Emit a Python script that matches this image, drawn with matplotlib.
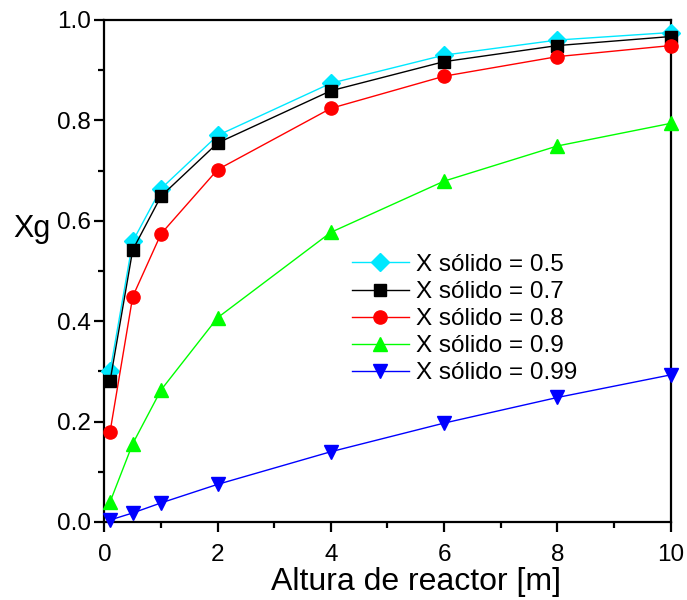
import matplotlib
matplotlib.use("Agg")
import matplotlib.pyplot as plt
from matplotlib.ticker import MultipleLocator, FormatStrFormatter

plt.rcParams["font.family"] = ["Liberation Sans", "DejaVu Sans"]

altura = [0.1, 0.5, 1, 2, 4, 6, 8, 10]

xg_05 = [0.300, 0.559, 0.664, 0.770, 0.874, 0.930, 0.960, 0.975]
xg_07 = [0.281, 0.542, 0.649, 0.755, 0.859, 0.917, 0.949, 0.967]
xg_08 = [0.180, 0.449, 0.574, 0.702, 0.824, 0.888, 0.927, 0.949]
xg_09 = [0.040, 0.156, 0.263, 0.407, 0.577, 0.679, 0.749, 0.794]
xg_099 = [0.004, 0.018, 0.038, 0.075, 0.140, 0.197, 0.248, 0.293]

labels = ["X sólido = 0.5", "X sólido = 0.7", "X sólido = 0.8",
          "X sólido = 0.9", "X sólido = 0.99"]

series = [
    (xg_05, "#00E8FF", "D", 9),
    (xg_07, "#000000", "s", 9),
    (xg_08, "#FF0000", "o", 9.5),
    (xg_09, "#00FF00", "^", 10.5),
    (xg_099, "#0000FF", "v", 10.5),
]

fig = plt.figure(figsize=(6.87, 6.0), dpi=100)
ax = fig.add_axes([0.152, 0.13, 0.824, 0.8367])

for (vals, color, marker, ms), label in zip(series, labels):
    ax.plot(altura, vals, color=color, lw=1.0, marker=marker, ms=ms,
            mec=color, mfc=color, label=label, clip_on=False, zorder=3)

ax.set_xlim(0, 10)
ax.set_ylim(0, 1.0)
ax.xaxis.set_major_locator(MultipleLocator(2))
ax.xaxis.set_minor_locator(MultipleLocator(1))
ax.yaxis.set_major_locator(MultipleLocator(0.2))
ax.yaxis.set_minor_locator(MultipleLocator(0.1))
ax.yaxis.set_major_formatter(FormatStrFormatter("%.1f"))

for s in ax.spines.values():
    s.set_linewidth(1.6)
ax.tick_params(which="both", direction="out", width=1.6, labelsize=17.5,
               top=False, right=False)
ax.tick_params(which="major", length=7.5)
ax.tick_params(which="minor", length=4.5)
ax.tick_params(axis="x", pad=8)
ax.tick_params(axis="y", pad=2.5)

ax.set_xlabel("Altura de reactor [m]", fontsize=23, labelpad=0)
ax.xaxis.set_label_coords(0.55, -0.09)
ax.set_ylabel("Xg", fontsize=22, rotation=0, ha="center", va="baseline")
ax.yaxis.set_label_coords(-0.128, 0.568)

ax.legend(loc="upper left", bbox_to_anchor=(0.437, 0.534), frameon=False,
          fontsize=17.5, handlelength=2.35, handletextpad=0.29,
          labelspacing=0.21, borderpad=0, borderaxespad=0)

fig.savefig("out.png", dpi=100, facecolor="white")
